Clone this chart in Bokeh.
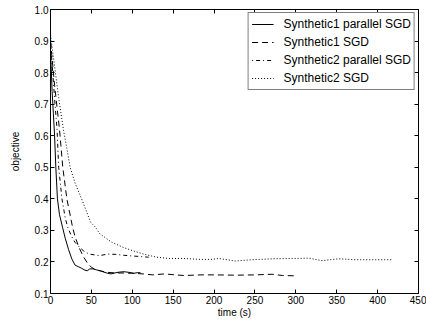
from bokeh.plotting import figure
from bokeh.models import LinearAxis, FixedTicker, Range1d, PrintfTickFormatter
from bokeh.embed import file_html
from bokeh.resources import INLINE

# Synthetic1 parallel SGD (solid)
s1p_t = [0, 2, 3.5, 5, 6.5, 8.5, 11, 14.7, 18, 22, 26, 30, 34, 38, 42, 45, 48, 52, 56, 61,
         65, 70, 74, 80, 85, 90, 96, 102, 106, 110]
s1p_y = [0.87, 0.74, 0.67, 0.60, 0.50, 0.40, 0.35, 0.31, 0.275, 0.24, 0.21, 0.19, 0.185,
         0.18, 0.174, 0.172, 0.178, 0.178, 0.175, 0.172, 0.168, 0.164, 0.162, 0.166,
         0.168, 0.169, 0.167, 0.164, 0.166, 0.166]

# Synthetic1 SGD (dashed)
s1_t = [0, 5, 11, 15, 20, 27, 30, 35, 40, 45, 50, 55, 60, 70, 80, 90, 100, 114, 125,
        139, 163, 184, 204, 225, 250, 271, 284, 300]
s1_y = [0.90, 0.76, 0.62, 0.50, 0.40, 0.31, 0.28, 0.245, 0.218, 0.197, 0.183, 0.176,
        0.172, 0.167, 0.165, 0.165, 0.164, 0.162, 0.159, 0.162, 0.157, 0.159, 0.159,
        0.158, 0.159, 0.161, 0.157, 0.156]

# Synthetic2 parallel SGD (dash-dot)
s2p_t = [0, 3, 5.5, 8, 10, 14, 18, 21, 26, 30, 35, 40, 47, 55, 60, 70, 80, 90, 100, 110, 120]
s2p_y = [0.90, 0.79, 0.70, 0.62, 0.50, 0.40, 0.34, 0.31, 0.28, 0.262, 0.248, 0.236, 0.225,
         0.222, 0.220, 0.225, 0.224, 0.221, 0.219, 0.217, 0.215]

# Synthetic2 SGD (dotted)
s2_t = [0, 5, 10, 16, 20, 24, 30, 38, 44, 49, 55, 60, 75, 90, 100, 115, 130, 145, 163, 184,
        196, 206, 226, 247, 272, 296, 316, 332, 352, 373, 395, 419]
s2_y = [0.92, 0.82, 0.72, 0.616, 0.56, 0.50, 0.45, 0.40, 0.36, 0.326, 0.31, 0.29, 0.262,
        0.245, 0.236, 0.224, 0.215, 0.211, 0.211, 0.208, 0.208, 0.211, 0.203, 0.207,
        0.21, 0.211, 0.212, 0.204, 0.21, 0.207, 0.207, 0.207]

x_ticks = [0, 50, 100, 150, 200, 250, 300, 350, 400, 450]
y_ticks = [0.1, 0.2, 0.3, 0.4, 0.5, 0.6, 0.7, 0.8, 0.9, 1.0]

FONT = "Liberation Sans"

p = figure(width=426, height=320, output_backend="svg", toolbar_location=None,
           x_range=Range1d(0, 450), y_range=Range1d(0.1, 1.0),
           min_border_left=50, min_border_right=8, min_border_top=9, min_border_bottom=27)
p.outline_line_color = None
p.xgrid.visible = False
p.ygrid.visible = False
p.background_fill_color = "white"

p.line(s1p_t, s1p_y, line_color="black", line_width=1, legend_label="Synthetic1 parallel SGD")
p.line(s1_t, s1_y, line_color="black", line_width=1, line_dash="6 4", legend_label="Synthetic1 SGD")
p.line(s2p_t, s2p_y, line_color="black", line_width=1, line_dash="1 3 4 3", legend_label="Synthetic2 parallel SGD")
p.line(s2_t, s2_y, line_color="black", line_width=1, line_dash="1 2", legend_label="Synthetic2 SGD")

def style_axis(ax, ticks, show_labels):
    ax.ticker = FixedTicker(ticks=ticks)
    ax.major_tick_in = 4
    ax.major_tick_out = 0
    ax.minor_tick_line_color = None
    ax.axis_line_color = "black"
    ax.axis_line_width = 1
    ax.major_tick_line_color = "black"
    ax.major_label_text_font = FONT
    ax.major_label_text_color = "black"
    ax.major_label_text_font_size = "10px"
    ax.axis_label_text_font = FONT
    ax.axis_label_text_font_style = "normal"
    ax.axis_label_text_font_size = "10px"
    ax.axis_label_text_color = "black"
    if show_labels:
        ax.major_label_standoff = 2
    else:
        ax.major_label_overrides = {t: "" for t in ticks}
        ax.major_label_standoff = 0

style_axis(p.xaxis[0], x_ticks, True)
style_axis(p.yaxis[0], y_ticks, True)
p.yaxis[0].formatter = PrintfTickFormatter(format="%.1f")
p.xaxis[0].axis_label = "time (s)"
p.xaxis[0].axis_label_standoff = 0
p.yaxis[0].axis_label = "objective"
p.yaxis[0].axis_label_standoff = 11

top = LinearAxis()
style_axis(top, x_ticks, False)
p.add_layout(top, "above")
right = LinearAxis()
style_axis(right, y_ticks, False)
p.add_layout(right, "right")

lg = p.legend[0]
lg.location = "top_right"
lg.label_text_font = FONT
lg.label_text_font_size = "12px"
lg.label_text_color = "black"
lg.border_line_color = "black"
lg.border_line_width = 1
lg.background_fill_color = "white"
lg.background_fill_alpha = 1
lg.glyph_width = 22
lg.glyph_height = 16
lg.label_height = 16
lg.label_standoff = 10
lg.spacing = 2
lg.padding = 3
lg.margin = 3

open("out.html", "w").write(file_html(p, INLINE))
